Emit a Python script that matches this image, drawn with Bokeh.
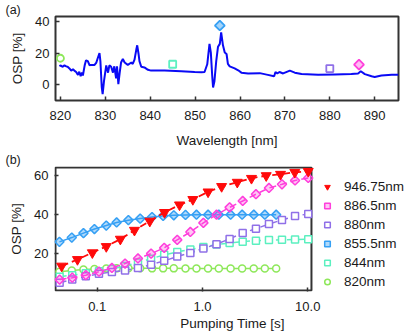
from bokeh.plotting import figure
from bokeh.models import (FixedTicker, CustomJSTickFormatter, Legend, LegendItem, Range1d, Title,
                          BoxAnnotation)
from bokeh.embed import file_html
from bokeh.resources import INLINE
import math

# ---------------- Panel (a): OSP spectrum ----------------
wavelength = [819.8, 820.0, 820.5, 820.9, 821.3, 821.6, 822.0, 822.4, 822.8, 823.1, 823.5, 823.9,
              824.2, 824.5, 824.8, 825.0, 825.4, 825.7, 826.1, 826.5, 826.8, 827.6, 828.0, 828.3,
              828.7, 828.9, 829.2, 829.4, 829.7, 830.2, 830.6, 830.9, 831.3, 831.7, 832.0, 832.4,
              832.6, 832.9, 833.2, 833.5, 833.9, 834.3, 835.0, 835.8, 836.1, 836.5, 836.9, 837.1,
              837.4, 837.6, 838.0, 838.7, 839.5, 840.2, 843.2, 846.9, 849.9, 851.4, 852.1, 852.7,
              853.2, 853.5, 853.8, 854.0, 854.3, 854.7, 855.1, 855.5, 855.8, 856.2, 856.6, 857.0,
              857.3, 857.7, 858.8, 859.6, 860.3, 861.8, 864.4, 866.2, 867.6, 867.9, 868.3, 868.8,
              869.6, 871.1, 872.2, 873.7, 877.4, 881.1, 884.8, 886.3, 886.9, 887.8, 889.3, 890.0,
              891.5, 893.8, 895.3]
spectrum_osp = [11.8, 12.4, 11.5, 12.4, 11.8, 11.5, 10.5, 9.1, 10.0, 9.1, 8.2, 6.4,
                8.4, 5.6, 7.8, 6.0, 12.4, 15.6, 15.1, 12.4, 12.7, 12.7, 14.2, 16.9,
                20.2, 15.1, -1.3, -5.8, 2.4, 12.4, 7.8, 12.4, 11.5, 7.8, 11.8, 4.2,
                11.8, 0.5, 7.8, 14.2, 16.4, 14.2, 12.7, 14.2, 13.3, 16.0, 22.4, 25.1,
                19.6, 15.1, 11.5, 11.1, 9.6, 9.1, 9.1, 8.7, 8.2, 8.0, 8.2, 13.1,
                26.0, 20.5, 6.0, -1.6, 2.4, 15.1, 24.2, 26.0, 33.3, 25.1, 20.5, 19.6,
                13.3, 11.8, 10.5, 9.3, 7.8, 7.3, 7.5, 6.4, 5.5, 8.2, 7.3, 8.2,
                7.3, 9.1, 7.8, 6.9, 6.5, 6.7, 6.9, 7.3, 8.7, 6.9, 5.5, 5.1,
                6.0, 6.4, 6.4]

marker_wl = [820.0, 845.0, 855.5, 880.0, 886.5]
marker_osp = [16.9, 13.1, 37.6, 10.4, 12.9]

x_ticks_a = [820, 830, 840, 850, 860, 870, 880, 890]
y_ticks_a = [0, 20, 40]

# ---------------- Panel (b): OSP vs pumping time ----------------
t_946 = [0.046, 0.065, 0.090, 0.122, 0.166, 0.226, 0.316, 0.436, 0.605, 0.81, 1.13, 1.52,
         2.14, 2.92, 4.03, 5.51, 7.53, 10.1]
osp_946 = [13.5, 16.9, 20.4, 23.6, 27.4, 32.0, 36.7, 41.2, 45.1, 47.9, 51.8, 54.6,
           56.8, 58.8, 60.2, 60.9, 61.9, 62.4]

t_fast = [0.0438, 0.0574, 0.0741, 0.0942, 0.122, 0.153, 0.198, 0.256, 0.332, 0.423,
          0.534, 0.69, 0.877, 1.13, 1.43, 1.85, 2.38, 3.07, 3.91, 5.01]
osp_855 = [26.0, 28.2, 30.5, 32.6, 34.4, 36.0, 37.2, 38.0, 38.8, 39.4,
           39.7, 39.9, 40.0, 40.0, 40.0, 40.0, 40.0, 40.0, 40.0, 40.0]
osp_820 = [10.5, 11.2, 11.7, 12.0, 12.2, 12.3, 12.4, 12.4, 12.3, 12.3,
           12.3, 12.2, 12.2, 12.2, 12.2, 12.2, 12.2, 12.2, 12.2, 12.2]

t_slow = [0.044, 0.058, 0.078, 0.104, 0.138, 0.184, 0.244, 0.325, 0.433, 0.576,
          0.767, 1.02, 1.36, 1.81, 2.41, 3.22, 4.28, 5.69, 7.57, 10.1]
osp_886 = [6.5, 7.5, 8.8, 10.6, 12.5, 14.8, 17.4, 19.9, 22.9, 27.0,
           31.1, 35.8, 40.0, 43.8, 47.1, 50.6, 53.8, 55.7, 57.7, 59.0]
osp_880 = [4.9, 6.5, 8.2, 9.5, 10.4, 11.2, 12.5, 14.2, 16.2, 18.4,
           20.3, 22.6, 24.8, 27.5, 30.6, 32.8, 35.2, 37.3, 39.3, 40.4]
osp_844 = [8.0, 8.8, 9.8, 10.8, 12.0, 13.5, 15.3, 17.3, 19.3, 20.8,
           22.0, 23.3, 24.6, 25.4, 26.1, 26.6, 26.9, 27.1, 27.2, 27.3]

x_ticks_b = [0.1, 1.0, 10.0]
y_ticks_b = [20, 40, 60]

# axes box of panel (b) (the frame is widened to host the legend on the right)
box_b_x = (0.0402, 10.84)
box_b_y = (0.86, 64.4)

C_RED = "#ff0a0a"
C_PINK = "#ff3fdc"
C_PURPLE = "#9070e8"
C_BLUE = "#36a0f4"
C_AQUA = "#5cf0c0"
C_GREEN = "#8ee85a"
C_LINE = "#0a0af5"

FONT = "Liberation Sans"
TXT = "#1a1a1a"


def style(p):
    p.outline_line_color = "#333333"
    p.outline_line_width = 2
    p.xgrid.visible = False
    p.ygrid.visible = False
    for ax in (p.xaxis, p.yaxis):
        ax.axis_line_color = None
        ax.major_tick_in = 4
        ax.major_tick_out = 0
        ax.minor_tick_line_color = None
        ax.major_tick_line_color = "#333333"
        ax.major_tick_line_width = 1.5
        ax.major_label_text_font = FONT
        ax.major_label_text_font_size = "13px"
        ax.major_label_text_color = TXT
        ax.axis_label_text_font = FONT
        ax.axis_label_text_font_size = "13.5px"
        ax.axis_label_text_font_style = "normal"
        ax.axis_label_text_color = TXT
    p.xaxis.major_label_standoff = 10
    p.yaxis.major_label_standoff = 6
    p.yaxis.axis_label_standoff = 7


def panel_title(text, offset):
    return Title(text=text, align="left", offset=offset, standoff=0, text_font=FONT,
                 text_font_size="12.5px", text_font_style="normal", text_color=TXT)


p1 = figure(width=415, height=150, x_range=Range1d(818.9, 895.3), y_range=Range1d(-9.8, 43.3),
            output_backend="svg", toolbar_location=None, title=panel_title("(a)", -50),
            min_border_left=55, min_border_right=17, min_border_top=15, min_border_bottom=38)
style(p1)
p1.xaxis.axis_label_standoff = 10
p1.xaxis.ticker = FixedTicker(ticks=x_ticks_a)
p1.yaxis.ticker = FixedTicker(ticks=y_ticks_a)
p1.xaxis.axis_label = "Wavelength [nm]"
p1.yaxis.axis_label = "OSP [%]"

p1.line(wavelength, spectrum_osp, line_color=C_LINE, line_width=2)
p1.scatter([marker_wl[0]], [marker_osp[0]], marker="circle", size=7, line_color=C_GREEN,
           line_width=1.8, fill_color="white")
p1.scatter([marker_wl[1]], [marker_osp[1]], marker="square", size=7, line_color=C_AQUA,
           line_width=1.8, fill_color="white")
p1.scatter([marker_wl[2]], [marker_osp[2]], marker="square", angle=math.pi / 4, size=7,
           line_color=C_BLUE, line_width=1.8, fill_color=C_BLUE, fill_alpha=0.45)
p1.scatter([marker_wl[3]], [marker_osp[3]], marker="square", size=7, line_color=C_PURPLE,
           line_width=1.8, fill_color="white")
p1.scatter([marker_wl[4]], [marker_osp[4]], marker="square", angle=math.pi / 4, size=7,
           line_color=C_PINK, line_width=1.8, fill_color=C_PINK, fill_alpha=0.35)

# frame: 1px beyond the box on left/top/bottom, extended to the right for the legend
x0 = 10 ** (math.log10(box_b_x[0]) - 1 / 105.3)
x1 = x0 * 10 ** (356 / 105.3)
p2 = figure(width=415, height=183, x_axis_type="log",
            x_range=Range1d(x0, x1), y_range=Range1d(box_b_y[0] - 0.5, box_b_y[1] + 0.5),
            output_backend="svg", toolbar_location=None, title=panel_title("(b)", -49),
            min_border_left=54, min_border_right=5, min_border_top=14, min_border_bottom=41)
style(p2)
p2.outline_line_color = None
p2.xaxis.axis_label_standoff = 2
p2.xaxis.ticker = FixedTicker(ticks=x_ticks_b, minor_ticks=[])
p2.xaxis.formatter = CustomJSTickFormatter(code="return tick.toFixed(1);")
p2.yaxis.ticker = FixedTicker(ticks=y_ticks_b)
p2.xaxis.axis_label = "Pumping Time [s]"
p2.yaxis.axis_label = "OSP [%]"
p2.add_layout(BoxAnnotation(left=box_b_x[0], right=box_b_x[1], bottom=box_b_y[0], top=box_b_y[1],
                            fill_alpha=0, line_color="#333333", line_alpha=1.0, line_width=2,
                            level="underlay"))

DASH = "7 4"
p2.line(t_fast, osp_820, line_color=C_GREEN, line_width=1.5)
r820 = p2.scatter(t_fast, osp_820, marker="circle", size=7, line_color=C_GREEN, line_width=1.5,
                  fill_color="white")
p2.line(t_slow, osp_844, line_color=C_AQUA, line_width=1.5, line_dash=DASH)
r844 = p2.scatter(t_slow, osp_844, marker="square", size=7, line_color=C_AQUA, line_width=1.5,
                  fill_color="white")
p2.line(t_fast, osp_855, line_color=C_BLUE, line_width=1.5)
r855 = p2.scatter(t_fast, osp_855, marker="square", angle=math.pi / 4, size=6.5, line_color=C_BLUE,
                  line_width=1.5, fill_color=C_BLUE, fill_alpha=0.4)
p2.line(t_slow, osp_880, line_color=C_PURPLE, line_width=1.5, line_dash=DASH)
r880 = p2.scatter(t_slow, osp_880, marker="square", size=7, line_color=C_PURPLE, line_width=1.5,
                  fill_color="white")
p2.line(t_slow, osp_886, line_color=C_PINK, line_width=1.5, line_dash=DASH)
r886 = p2.scatter(t_slow, osp_886, marker="square", angle=math.pi / 4, size=6.5, line_color=C_PINK,
                  line_width=1.5, fill_color=C_PINK, fill_alpha=0.3)
p2.line(t_946, osp_946, line_color=C_RED, line_width=1.8, line_dash=DASH)
r946 = p2.scatter(t_946, osp_946, marker="inverted_triangle", size=10, line_color=C_RED,
                  fill_color=C_RED)

legend = Legend(items=[
    LegendItem(label="946.75nm", renderers=[r946]),
    LegendItem(label="886.5nm", renderers=[r886]),
    LegendItem(label="880nm", renderers=[r880]),
    LegendItem(label="855.5nm", renderers=[r855]),
    LegendItem(label="844nm", renderers=[r844]),
    LegendItem(label="820nm", renderers=[r820]),
], location=(266, 1))
legend.padding = 0
legend.margin = 0
legend.spacing = 2
legend.glyph_width = 14
legend.glyph_height = 17
legend.label_height = 17
legend.label_standoff = 10
legend.label_text_font = FONT
legend.label_text_font_size = "13.5px"
legend.label_text_color = TXT
legend.border_line_color = None
legend.background_fill_alpha = 0
p2.add_layout(legend)

open("out.html", "w").write(file_html([p1, p2], INLINE))
